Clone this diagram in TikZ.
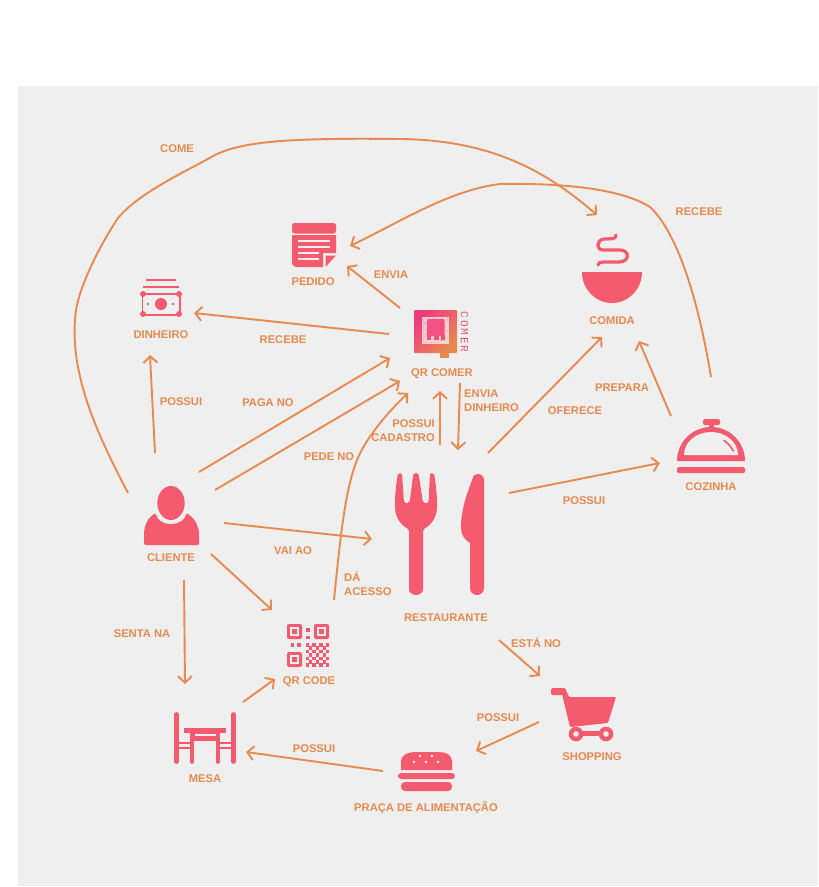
\documentclass[tikz,border=0pt]{standalone}
\usepackage{fontspec}
\setmainfont{Liberation Sans}
\newfontfamily\cmfont[LetterSpace=18]{Liberation Mono}
\usetikzlibrary{arrows.meta,calc}
\definecolor{lineC}{HTML}{E68A50}
\definecolor{iconC}{HTML}{F45B6E}
\definecolor{bgC}{HTML}{EFEFEF}
\definecolor{pinkC}{HTML}{EE3B7E}
\tikzset{
  lbl/.style={font=\bfseries\fontsize{11.2}{14}\selectfont,text=lineC,inner sep=0pt,align=center,yshift=-0.6pt},
  lbll/.style={lbl,align=left,anchor=west},
  lblr/.style={lbl,align=right,anchor=east},
  hold/.style={inner sep=0pt,outer sep=0pt,minimum size=1pt},
  conn/.style={draw=lineC,line width=1.9pt,-{Straight Barb[length=6.5pt,width=14pt,line width=1.9pt]}},
  ic/.style={fill=iconC,draw=none},
  cut/.style={fill=bgC,draw=none}
}
\newcommand{\atpt}[3]{([shift={(#2,#3)}]#1.center)}
\begin{document}
\begin{tikzpicture}[x=1pt,y=-1pt]
\useasboundingbox (0,0) rectangle (819,887);
\fill[bgC] (18,86) rectangle (818,886);

% ---- anchors of icons
\node[hold] (cli) at (171,515) {};
\node[hold] (din) at (161,298) {};
\node[hold] (ped) at (314,245) {};
\node[hold] (qrc) at (441,334) {};
\node[hold] (com) at (612,268) {};
\node[hold] (coz) at (711,446) {};
\node[hold] (res) at (440,534) {};
\node[hold] (qrd) at (308,645) {};
\node[hold] (mes) at (205,738) {};
\node[hold] (sho) at (584,715) {};
\node[hold] (pra) at (426,771) {};

% ---- PEDIDO
\fill[ic,rounded corners=2.5pt] (292,233.5) -- (292,223) -- (336,223) -- (336,233.5) -- cycle;
\fill[ic] (292,235) -- (336,235) -- (336,253) -- (323,253) -- (323,267) -- (296,267) .. controls (294,267) and (292,265) .. (292,263) -- cycle;
\fill[ic] (325.5,255.5) -- (336,255.5) -- (325.5,267) -- cycle;
\foreach \a/\b/\c in {298/330/241,298/330/247,298/319/253,298/319/259}
  \draw[bgC,line width=1.3pt] (\a,\c) -- (\b,\c);

% ---- DINHEIRO
\draw[iconC,line width=1.5pt] (146,280) -- (176,280);
\draw[iconC,line width=1.5pt] (143,287) -- (179,287);
\draw[iconC,line width=1.8pt] (142.5,294) rectangle (180,315);
\foreach \x/\y in {143/294,179/294,143/314,179/314}\fill[ic] (\x,\y) circle (3pt);
\fill[ic] (161,304) circle (6pt);
\fill[ic] (148,304) circle (1.4pt);
\fill[ic] (173,304) circle (1.4pt);

% ---- CLIENTE
\fill[ic] (171,503) ellipse (13.7pt and 17pt);
\fill[ic,rounded corners=1.5pt] (144,545) -- (144,536) .. controls (144,525) and (148,518) .. (155.5,513) .. controls (157,520) and (164,524) .. (171,524) .. controls (178,524) and (185,520) .. (186.5,513) .. controls (194,518) and (199,525) .. (199,536) -- (199,545) -- cycle;

% ---- QR COMER
\shade[left color=pinkC,right color=lineC,shading angle=45,rounded corners=1pt] (414,310) -- (457,310) -- (457,353) -- (414,353) -- cycle;
\fill[lineC] (440,353) rectangle (449,358);
\fill[white,opacity=.68] (422,317) rectangle (449,344);
\foreach \i/\j in {0/1,1/3,3/0,4/2,6/0,7/2,9/1,10/3,12/0,13/2,15/1,0/5,2/7,1/10,3/12,0/14,2/15,14/5,15/8,13/10,15/12,13/14,5/15,7/14,9/15,11/14,4/13}
  \fill[iconC,opacity=.35] (422.5+\i*1.6,317.5+\j*1.6) rectangle ++(1.5,1.5);
\fill[iconC!88!magenta,rounded corners=2pt] (427,319) rectangle (444.5,336);
\fill[iconC!88!magenta] (427,333) rectangle (431,340);
\fill[iconC!88!magenta] (434,335) rectangle (439,340);
\fill[iconC!88!magenta] (441,335) rectangle (444.5,340);
\node[hold,font=\fontsize{11}{11}\cmfont,text=iconC,rotate=-90] (cm) at (464.5,332) {COMER};

% ---- COMIDA
\fill[ic] (582,272) -- (642,272) arc[start angle=0,end angle=-180,x radius=30pt,y radius=31pt] -- cycle;
\draw[iconC,line width=3.2pt,line cap=round] (616,235) .. controls (616,240) and (610,238.5) .. (604,239) .. controls (596,240) and (596,250) .. (603,250) -- (620,250) .. controls (630,250) and (630,262) .. (619,262) -- (603,262) .. controls (600,262) and (598,263) .. (598,265);

% ---- COZINHA
\fill[ic,rounded corners=2pt] (703,419) rectangle (720,425);
\fill[ic] (708.5,424) rectangle (714,429);
\fill[ic] (677,461) arc[start angle=180,end angle=0,x radius=34pt,y radius=34pt] -- cycle;
\fill[cut] (684,455) arc[start angle=180,end angle=0,x radius=27pt,y radius=23pt] -- cycle;
\draw[iconC,line width=1.6pt,line cap=round] (724,440.5) .. controls (729,444) and (731,447) .. (733.5,451);
\fill[ic,rounded corners=1.5pt] (677,467) rectangle (745,473);

% ---- RESTAURANTE
\fill[ic,rounded corners=2pt] (398,473) .. controls (396,485) and (395,495) .. (395,505) .. controls (395,518) and (402,526) .. (409,529) -- (409,588) arc[start angle=180,end angle=360,radius=7pt] -- (423,529) .. controls (430,526) and (437,518) .. (437,505) .. controls (437,495) and (436,485) .. (434,473) -- (430,473) -- (428.5,503) -- (423,503) -- (418.5,473) -- (413.5,473) -- (409.5,503) -- (404,503) -- (402,473) -- cycle;
\fill[ic] (484,480) arc[start angle=0,end angle=140,radius=6pt] .. controls (470,487) and (461,505) .. (461,528) .. controls (461,535) and (465,540) .. (470,543) -- (470,588) arc[start angle=180,end angle=360,radius=7pt] -- cycle;

% ---- QR CODE
\foreach \x/\y in {287/624,314/624,287/652}{
  \fill[ic,rounded corners=2pt] (\x,\y) rectangle ++(15,15);
  \fill[cut] (\x+3,\y+3) rectangle ++(9,9);
  \fill[ic] (\x+5,\y+5) rectangle ++(5,5);
}
\fill[ic] (305.5,628) rectangle ++(4,4);
\fill[ic] (305.5,636) rectangle ++(4,3);
\fill[ic] (290.5,643) rectangle ++(3.5,3.5);
\fill[ic] (297,643) rectangle ++(3.5,3.5);
\foreach \i in {0,...,6}\foreach \j in {0,...,6}{
  \pgfmathparse{int(mod(\i+\j,2))}
  \ifnum\pgfmathresult=0 \fill[ic] (305.5+\i*3.4,643+\j*3.4) rectangle ++(3.5,3.5); \fi
}

% ---- MESA
\draw[iconC,line width=4.8pt,line cap=round] (176.5,714.5) -- (176.5,761.5);
\draw[iconC,line width=4.8pt,line cap=round] (233.5,714.5) -- (233.5,761.5);
\fill[ic] (184,728) rectangle (226,733);
\fill[ic] (190,733) rectangle (220,741);
\fill[cut] (194.5,733.5) rectangle (215.5,736);
\draw[iconC,line width=4.8pt,line cap=round] (192,736) -- (192,761.5);
\draw[iconC,line width=4.8pt,line cap=round] (218,736) -- (218,761.5);
\fill[ic] (176,742) rectangle (192,744);
\fill[ic] (176,747) rectangle (192,749);
\fill[ic] (218,742) rectangle (234,744);
\fill[ic] (218,747) rectangle (234,749);

% ---- SHOPPING
\fill[ic,rounded corners=1.5pt] (551,688) rectangle (566,695);
\fill[ic,rounded corners=1pt] (561,690) -- (566,690) -- (569,697) -- (616,697) -- (608,723) -- (570,727) -- cycle;
\fill[ic] (576,730.5) rectangle (607,735.5);
\fill[ic] (576,734) circle (7.3pt);
\fill[ic] (606,734) circle (7.3pt);
\fill[cut] (576,734) circle (2.8pt);
\fill[cut] (606,734) circle (2.8pt);

% ---- BURGER
\fill[ic] (401,770) -- (401,761) .. controls (401,755) and (408,752) .. (415,752) -- (439,752) .. controls (446,752) and (452,755) .. (452,761) -- (452,770) -- cycle;
\foreach \x/\y in {420/756,432/756,414/762,426/762,438/762}{\fill[bgC] (\x,\y) circle (1.3pt);}
\fill[ic,rounded corners=3pt] (398,773) rectangle (455,779);
\fill[ic,rounded corners=4pt] (401,782) -- (452,782) -- (452,791) -- (401,791) -- cycle;

% ---- labels
\node[lbl] (lCome) at (177,148) {COME};
\node[lbl] (lRec1) at (699,211) {RECEBE};
\node[lbl] (lPed) at (313,281) {PEDIDO};
\node[lbl] (lEnv) at (391,274) {ENVIA};
\node[lbl] (lDin) at (161,334) {DINHEIRO};
\node[lbl] (lRec2) at (283,339) {RECEBE};
\node[lbl] (lPos1) at (181,401) {POSSUI};
\node[lbl] (lPag) at (268,402) {PAGA NO};
\node[lbl] (lQrc) at (442,373) {QR COMER};
\node[lbl] (lCom) at (612,320) {COMIDA};
\node[lbl] (lPre) at (622,387) {PREPARA};
\node[lbl] (lOfe) at (575,410) {OFERECE};
\node[lbll] (lEnvD) at (464,400) {ENVIA\\DINHEIRO};
\node[lblr] (lPosC) at (435,430) {POSSUI\\CADASTRO};
\node[lbl] (lPede) at (329,456) {PEDE NO};
\node[lbl] (lCoz) at (711,486) {COZINHA};
\node[lbl] (lPos2) at (584,500) {POSSUI};
\node[lbl] (lCli) at (171,557) {CLIENTE};
\node[lbl] (lVai) at (293,550) {VAI AO};
\node[lbl] (lRes) at (446,617) {RESTAURANTE};
\node[lbll] (lDa) at (344,583) {DÁ\\ACESSO};
\node[lbl] (lSen) at (142,633) {SENTA NA};
\node[lbl] (lEst) at (536,642) {ESTÁ NO};
\node[lbl] (lQrd) at (309,681) {QR CODE};
\node[lbl] (lPos3) at (498,717) {POSSUI};
\node[lbl] (lPos4) at (314,748) {POSSUI};
\node[lbl] (lSho) at (592,756) {SHOPPING};
\node[lbl] (lMes) at (205,778) {MESA};
\node[lbl] (lPra) at (426,807) {PRAÇA DE ALIMENTAÇÃO};

% ---- connectors
\draw[conn] \atpt{cli}{-43}{-22} .. controls (95,430) and (68,370) .. (76,310) .. controls (80,285) and (100,245) .. (118,218) .. controls (140,192) and (185,172) .. (215,155) .. controls (245,140) and (300,138) .. (400,139) .. controls (490,140) and (545,170) .. \atpt{com}{-15}{-53};
\draw[conn] \atpt{coz}{0}{-69} .. controls (700,310) and (680,235) .. (650,207) .. controls (620,188) and (560,183) .. (500,184) .. controls (450,190) and (400,222) .. \atpt{ped}{36}{1};
\draw[conn] \atpt{cli}{-16}{-62} -- \atpt{din}{-11}{57};
\draw[conn] \atpt{cli}{28}{-43} -- \atpt{qrc}{-51}{24};
\draw[conn] \atpt{cli}{44}{-25} -- \atpt{qrc}{-41}{47};
\draw[conn] \atpt{cli}{53}{8} -- \atpt{res}{-68}{5};
\draw[conn] \atpt{cli}{40}{39} -- \atpt{qrd}{-36}{-35};
\draw[conn] \atpt{cli}{13}{65} -- \atpt{mes}{-20}{-54};
\draw[conn] \atpt{qrd}{26}{-45} .. controls (340,540) and (345,490) .. (357,460) .. controls (365,440) and (385,415) .. \atpt{qrc}{-33}{59};
\draw[conn] \atpt{mes}{38}{-36} -- \atpt{qrd}{-33}{34};
\draw[conn] \atpt{pra}{-43}{0} -- \atpt{mes}{41}{14};
\draw[conn] \atpt{sho}{-45}{7} -- \atpt{pra}{50}{-20};
\draw[conn] \atpt{res}{59}{106} -- \atpt{sho}{-44}{-39};
\draw[conn] \atpt{res}{48}{-81} -- \atpt{com}{-10}{69};
\draw[conn] \atpt{res}{69}{-41} -- \atpt{coz}{-51}{17};
\draw[conn] \atpt{coz}{-40}{-30} -- \atpt{com}{27}{73};
\draw[conn] \atpt{res}{0}{-89} -- \atpt{qrc}{-1}{57};
\draw[conn] \atpt{qrc}{19}{49} -- \atpt{res}{18}{-84};
\draw[conn] \atpt{qrc}{-41}{-26} -- \atpt{ped}{33}{21};
\draw[conn] \atpt{qrc}{-52}{0} -- \atpt{din}{33}{15};
\end{tikzpicture}
\end{document}
